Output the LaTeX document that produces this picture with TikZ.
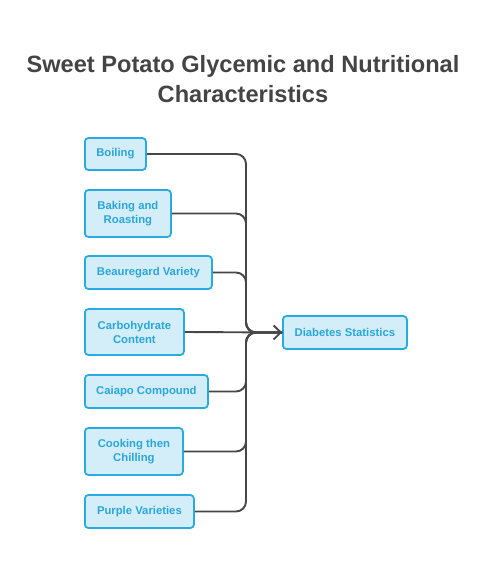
\documentclass[tikz,border=0pt]{standalone}
\usepackage{fontspec}
\setmainfont{Liberation Sans}
\usetikzlibrary{arrows.meta}
\definecolor{boxfill}{HTML}{D3EEF9}
\definecolor{boxline}{HTML}{29ABE2}
\definecolor{boxtext}{HTML}{2AA6DB}
\definecolor{linecol}{HTML}{474747}
\definecolor{titlecol}{HTML}{444444}
\tikzset{
  item/.style={draw=boxline, fill=boxfill, line width=1.8pt, rounded corners=3.5pt,
    anchor=west, align=center, text=boxtext, font=\fontsize{11.3}{14}\selectfont\bfseries,
    inner sep=0pt},
  conn/.style={draw=linecol, line width=1.9pt, rounded corners=10pt},
  arr/.style={-{Straight Barb[length=7pt,width=14pt,line width=1.9pt]}}
}
\begin{document}
\begin{tikzpicture}[x=1pt,y=-1pt]
\useasboundingbox (0,0) rectangle (491,583);
\node[font=\fontsize{23.6}{29.5}\selectfont\bfseries, text=titlecol, align=center] (title) at (243,79)
  {Sweet Potato Glycemic and Nutritional\\Characteristics};
\node[item, minimum width=61pt, minimum height=32pt] (boil) at (84,154) {Boiling};
\node[item, minimum width=86pt, minimum height=47pt] (bake) at (84,213.5) {Baking and\\Roasting};
\node[item, minimum width=127pt, minimum height=33pt] (beau) at (84,272.5) {Beauregard Variety};
\node[item, minimum width=99pt, minimum height=46pt] (carb) at (84,332) {Carbohydrate\\Content};
\node[item, minimum width=123pt, minimum height=33pt] (caia) at (84,391.5) {Caiapo Compound};
\node[item, minimum width=98pt, minimum height=47pt] (cook) at (84,451.5) {Cooking then\\Chilling};
\node[item, minimum width=109pt, minimum height=33pt] (purp) at (84,511.5) {Purple Varieties};
\node[item, minimum width=124pt, minimum height=33pt] (diab) at (282,332.5) {Diabetes Statistics};
\coordinate (bus) at (246,332.5);
\draw[conn] (boil.east) -| (bus) -- (diab.west);
\draw[conn] (bake.east) -| (bus) -- (diab.west);
\draw[conn] (beau.east) -| (bus) -- (diab.west);
\draw[conn] (caia.east) -| (bus) -- (diab.west);
\draw[conn] (cook.east) -| (bus) -- (diab.west);
\draw[conn] (purp.east) -| (bus) -- (diab.west);
\draw[conn, arr] (carb.east) -- (diab.west);
\end{tikzpicture}
\end{document}
